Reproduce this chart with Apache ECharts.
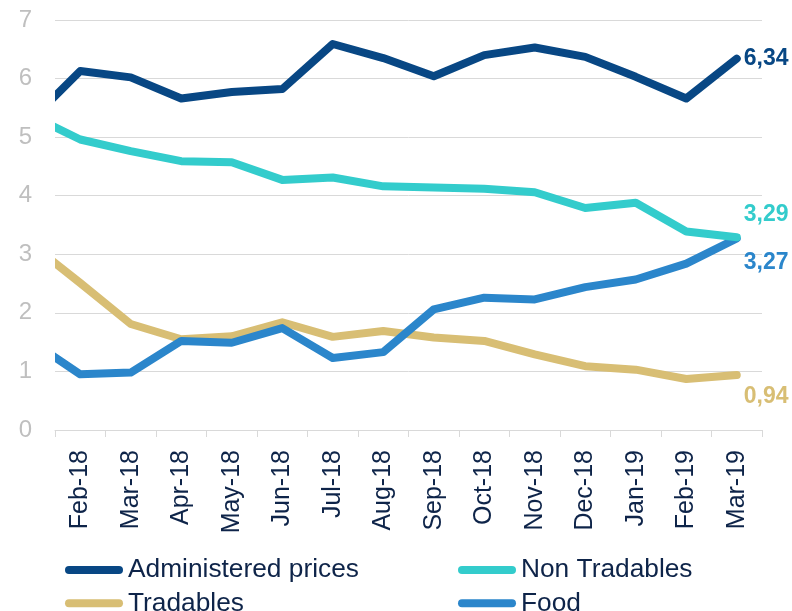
<!DOCTYPE html>
<html>
<head>
<meta charset="utf-8">
<script src="https://cdn.jsdelivr.net/npm/echarts@6/dist/echarts.min.js"></script>
<style>
html,body{margin:0;padding:0;background:#fff;}
#chart{width:792px;height:611px;}
</style>
</head>
<body>
<div id="chart"></div>
<script>
// Categories (index 0 = Jan-18, shown only as the clipped start of each line)
var categories = ['Jan-18','Feb-18','Mar-18','Apr-18','May-18','Jun-18','Jul-18','Aug-18','Sep-18','Oct-18','Nov-18','Dec-18','Jan-19','Feb-19','Mar-19'];
var administered = [5.27, 6.13, 6.02, 5.66, 5.77, 5.82, 6.59, 6.35, 6.04, 6.40, 6.53, 6.37, 6.03, 5.66, 6.34];
var nonTradables = [5.38, 4.96, 4.76, 4.59, 4.57, 4.27, 4.31, 4.16, 4.14, 4.12, 4.06, 3.79, 3.88, 3.39, 3.29];
var tradables    = [3.19, 2.51, 1.81, 1.55, 1.60, 1.84, 1.59, 1.69, 1.58, 1.52, 1.29, 1.09, 1.03, 0.87, 0.94];
var food         = [1.53, 0.95, 0.98, 1.52, 1.49, 1.74, 1.23, 1.33, 2.06, 2.26, 2.23, 2.44, 2.57, 2.84, 3.27];
var yTicks = [0, 1, 2, 3, 4, 5, 6, 7];

var labelIdx = [];
var tickPos = [];
for (var i = 1; i < categories.length; i++) labelIdx.push(i);
for (var j = 0; j < categories.length; j++) tickPos.push(j + 0.5);

function pts(arr) { return arr.map(function (v, i) { return [i, v]; }); }

var colors = {
  admin: '#084784',
  nontr: '#33CCCC',
  trad: '#D8BE74',
  food: '#2B86CB'
};

function mkSeries(name, data, color, offY) {
  return {
    name: name,
    type: 'line',
    data: pts(data),
    symbol: 'none',
    clip: true,
    lineStyle: { width: 8, color: color, cap: 'round', join: 'round' },
    itemStyle: { color: color },
    endLabel: {
      show: true,
      distance: 6,
      offset: [1, offY],
      color: color,
      fontFamily: 'Liberation Sans, Arial, sans-serif',
      fontWeight: 'bold',
      fontSize: 23,
      formatter: function (p) { return p.value[1].toFixed(2).replace('.', ','); }
    },
    emphasis: { disabled: true },
    animation: false
  };
}

var legendIcon = 'path://M4,0 H54 A4,4 0 0 1 54,8 H4 A4,4 0 0 1 4,0 Z';
var legendText = { color: '#0E2449', fontSize: 26.3, fontFamily: 'Liberation Sans, Arial, sans-serif', lineHeight: 26 };

var chart = echarts.init(document.getElementById('chart'), null, { renderer: 'canvas' });
chart.setOption({
  backgroundColor: '#ffffff',
  animation: false,
  grid: { left: 55, right: 30, top: 20, height: 410 },
  graphic: [
    // white mask: clip lines exactly at the plot's left edge
    { type: 'rect', left: 38, top: 0, shape: { width: 17, height: 428 }, style: { fill: '#ffffff' }, z: 100, silent: true }
  ],
  legend: [
    {
      orient: 'vertical', left: 65, top: 557, height: 90, padding: 0, itemGap: 7.3,
      itemWidth: 58, itemHeight: 8, itemStyle: { borderWidth: 0 },
      icon: legendIcon, data: ['Administered prices', 'Tradables'],
      textStyle: legendText, selectedMode: false
    },
    {
      orient: 'vertical', left: 458, top: 557, height: 90, padding: 0, itemGap: 7.3,
      itemWidth: 58, itemHeight: 8, itemStyle: { borderWidth: 0 },
      icon: legendIcon, data: ['Non Tradables', 'Food'],
      textStyle: legendText, selectedMode: false
    }
  ],
  xAxis: {
    type: 'value',
    min: 0.5,
    max: 14.5,
    axisLine: { show: true, lineStyle: { color: '#D9D9D9', width: 1 } },
    axisTick: { show: true, length: 7, lineStyle: { color: '#D9D9D9' }, customValues: tickPos },
    axisLabel: {
      customValues: labelIdx,
      rotate: 90,
      margin: 20,
      color: '#0E2449',
      fontSize: 25,
      fontFamily: 'Liberation Sans, Arial, sans-serif',
      formatter: function (v) { return categories[Math.round(v)] || ''; }
    },
    splitLine: { show: false }
  },
  yAxis: {
    type: 'value',
    min: 0,
    max: 7,
    interval: 1,
    axisLine: { show: false },
    axisTick: { show: false },
    axisLabel: {
      margin: 23,
      color: '#BFBFBF',
      fontSize: 24,
      fontFamily: 'Liberation Sans, Arial, sans-serif',
      formatter: function (v) { return yTicks.indexOf(v) >= 0 ? String(v) : ''; }
    },
    splitLine: { show: true, lineStyle: { color: '#D9D9D9', width: 1 } }
  },
  series: [
    mkSeries('Tradables', tradables, colors.trad, 22),
    mkSeries('Food', food, colors.food, 24),
    mkSeries('Non Tradables', nonTradables, colors.nontr, -23),
    mkSeries('Administered prices', administered, colors.admin, 0)
  ]
});
</script>
</body>
</html>
